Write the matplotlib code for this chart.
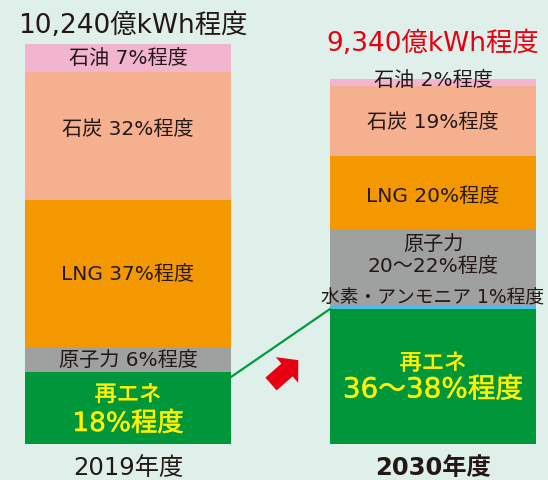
import matplotlib.pyplot as plt
import matplotlib.patheffects as pe
from matplotlib.patches import FancyArrow

plt.rcParams['font.family'] = ['DejaVu Sans', 'Noto Sans CJK JP']

totals = [10240, 9340]
years = ['2019年度', '2030年度']
# 2019 (bottom -> top)
src_2019 = ['再エネ', '原子力', 'LNG', '石炭', '石油']
pct_2019 = [18, 6, 37, 32, 7]
lbl_2019 = ['再エネ\n18%程度', '原子力 6%程度', 'LNG 37%程度', '石炭 32%程度', '石油 7%程度']
# 2030 (bottom -> top)
src_2030 = ['再エネ', '水素・アンモニア', '原子力', 'LNG', '石炭', '石油']
pct_2030 = [37, 1, 21, 20, 19, 2]
lbl_2030 = ['再エネ\n36〜38%程度', '水素・アンモニア 1%程度', '原子力\n20〜22%程度',
            'LNG 20%程度', '石炭 19%程度', '石油 2%程度']

colors = {'再エネ': '#00973b', '原子力': '#9fa0a0', 'LNG': '#f39800',
          '石炭': '#f4b08f', '石油': '#f2b5cf', '水素・アンモニア': '#4fbde9'}
BG = '#dfefe9'
TXT = '#231815'
YEL = '#fff100'
thick = [pe.withStroke(linewidth=0.35, foreground=YEL)]

W, H = 548, 480
fig = plt.figure(figsize=(W / 100, H / 100), dpi=100, facecolor=BG)
ax = fig.add_axes([0, 0, 1, 1])
ax.set_facecolor(BG)
px = 25.6  # kWh units per pixel
ax.set_xlim(-128 / 305, 1 + (W - 433) / 305)
ax.set_ylim(-36 * px, 444 * px)
ax.axis('off')
bw = 206 / 305

tops = {}
for xi, (srcs, pcts, lbls, tot) in enumerate([(src_2019, pct_2019, lbl_2019, totals[0]),
                                               (src_2030, pct_2030, lbl_2030, totals[1])]):
    bottom = 0
    for s, p, l in zip(srcs, pcts, lbls):
        h = tot * p / 100
        ax.bar(xi, h, bottom=bottom, width=bw, color=colors[s], linewidth=0)
        cy = bottom + h / 2
        if s == '再エネ':
            tops[xi] = bottom + h
            big = 19 if xi == 0 else 20
            ax.text(xi, cy + 13 * px, '再エネ', ha='center', va='center',
                    color=YEL, fontsize=16, path_effects=thick)
            ax.text(xi, cy - 13 * px - (3 * px if xi == 0 else 0), l.split('\n')[1],
                    ha='center', va='center', color=YEL, fontsize=big, path_effects=thick)
        elif s == '水素・アンモニア':
            ax.text(xi, cy + 9 * px, l, ha='center', va='center', color=TXT, fontsize=13.5)
        elif s == '原子力' and xi == 1:
            ax.text(xi, cy + 23 * px, '原子力', ha='center', va='center', color=TXT, fontsize=14.5)
            ax.text(xi, cy + 1 * px, l.split('\n')[1], ha='center', va='center',
                    color=TXT, fontsize=14.5)
        else:
            off = 0
            if s == '石炭':
                off = 7 * px if xi == 0 else -1 * px
            if s == 'LNG' and xi == 1:
                off = -4 * px
            if s == '石油' and xi == 1:
                off = 2 * px
            ax.text(xi, cy + off, l, ha='center', va='center', color=TXT, fontsize=14.5)
        bottom += h

# totals above bars
ax.text(0.015, totals[0] + 18 * px, f'{totals[0]:,}億kWh程度', ha='center', va='center',
        color=TXT, fontsize=19)
ax.text(1, totals[1] + 35 * px, f'{totals[1]:,}億kWh程度', ha='center', va='center',
        color='#e60012', fontsize=19)

# year labels
ax.text(0, -24 * px, years[0], ha='center', va='center', color=TXT, fontsize=17.5)
ax.text(1, -24 * px, years[1], ha='center', va='center', color=TXT, fontsize=17.5,
        fontweight='bold')

# connector line between renewable tops
ax.plot([bw / 2, 1 - bw / 2], [tops[0] - 5 * px, tops[1]], color='#009944', lw=1.6)

# red arrow (pixel overlay)
ov = fig.add_axes([0, 0, 1, 1])
ov.set_xlim(0, W)
ov.set_ylim(H, 0)
ov.axis('off')
ov.add_patch(FancyArrow(271, 384, 16, -14, width=17, head_width=34, head_length=15,
                        length_includes_head=False, color='#e60012', linewidth=0))

fig.savefig('out.png', dpi=100, facecolor=BG)
